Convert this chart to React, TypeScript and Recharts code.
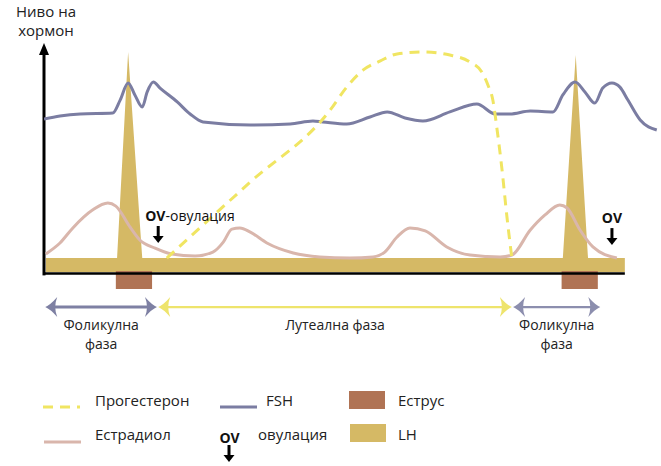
import React from "react";
import {
  ComposedChart,
  Line,
  Area,
  XAxis,
  YAxis,
  ReferenceLine,
  ReferenceArea,
  ReferenceDot,
} from "recharts";

const FONT = "'Open Sans', 'Noto Sans', sans-serif";

// x = relative time in the cycle (0..100), y = relative hormone level
const fshDays = [0, 2.6, 5.9, 11.2, 12.4, 13.7, 14.8, 16.0, 16.8, 17.8, 18.9, 21.7, 23.8, 25.9, 33.6, 40.1, 43.8, 45.4, 49.3, 53.1, 55.9, 58.8, 61.7, 66.1, 70.5, 73.5, 75.9, 79.2, 82.9, 84.5, 86.5, 88.1, 89.7, 91.0, 92.5, 93.8, 95.1, 97.1, 99.8];
const fshLevels = [65.9, 67.2, 68.1, 68.5, 74.1, 81.5, 76.3, 71.1, 77.6, 81.9, 79.3, 73.3, 68.1, 64.7, 63.4, 63.8, 65.1, 64.7, 63.8, 66.8, 69.0, 66.4, 65.1, 69.0, 72.4, 68.1, 68.1, 69.4, 69.0, 76.3, 81.9, 77.6, 72.8, 79.3, 81.5, 79.7, 74.1, 65.5, 61.2];

const estradiolDays = [0.3, 2.6, 4.7, 7.9, 10.4, 11.7, 14.0, 15.6, 18.1, 20.8, 24.6, 27.5, 29.2, 30.6, 31.9, 33.6, 36.3, 40.6, 44.9, 49.8, 53.6, 55.5, 57.5, 59.6, 62.1, 65.6, 69.4, 74.3, 76.2, 79.2, 81.6, 84.0, 85.2, 87.3, 89.4, 93.3];
const estradiolLevels = [7.8, 12.5, 19.0, 26.7, 29.7, 28.4, 19.4, 13.8, 10.3, 7.8, 6.9, 8.6, 12.9, 18.5, 19.0, 17.2, 12.5, 8.2, 6.5, 6.0, 6.5, 8.6, 15.1, 19.0, 17.7, 10.8, 7.3, 6.5, 7.3, 18.1, 24.6, 28.9, 27.6, 18.1, 10.8, 6.0];

const progesteroneDays = [20.0, 33.6, 46.6, 49.3, 52.0, 54.7, 57.5, 61.7, 66.1, 69.4, 71.3, 72.3, 73.1, 73.8, 74.6, 75.4, 76.2];
const progesteroneLevels = [6.0, 38.8, 69.8, 79.7, 87.1, 90.9, 94.0, 94.8, 93.5, 90.5, 86.2, 80.6, 74.1, 61.2, 44.0, 23.7, 6.0];

const lhDays = [0.3, 11.9, 13.7, 16.0, 84.5, 86.6, 88.6, 94.6];
const lhLevels = [6.0, 6.0, 94.8, 6.0, 6.0, 93.5, 6.0, 6.0];

const estrusStart = [11.7, 84.3];
const estrusEnd = [17.6, 90.2];
const estrusTop = 0.4;
const estrusBottom = -7.3;

const ovulationDays = [18.6, 92.5];
const ovulationLevels = [12.5, 11.6];
const ovulationLabels = ["-овулация", ""];

const phaseNames = [["Фоликулна", "фаза"], ["Лутеална фаза"], ["Фоликулна", "фаза"]];
const phaseStart = [0.2, 18.6, 76.4];
const phaseEnd = [18.4, 76.2, 90.6];
const phaseLevel = -15.1;
const phaseColors = ["#7E80A3", "#EEE46C", "#8C8EAE"];

const axisTop = 98.7;
const axisEnd = 94.6;

const COLORS = {
  fsh: "#7B7DA2",
  estradiol: "#D9B6AC",
  progesterone: "#F0E562",
  lh: "#D5B965",
  estrus: "#B07354",
};

const toPoints = (xs: number[], ys: number[]) => xs.map((x, i) => ({ day: x, level: ys[i] }));

const fshData = toPoints(fshDays, fshLevels);
const estradiolData = toPoints(estradiolDays, estradiolLevels);
const progesteroneData = toPoints(progesteroneDays, progesteroneLevels);
const lhData = toPoints(lhDays, lhLevels);

function arrowHead(x: number, y: number, dir: number) {
  const b = x + dir * 12;
  const m = x + dir * 8;
  const s = x + dir * 5;
  return `M${x},${y} Q${s},${y - 2} ${b},${y - 10} Q${m},${y} ${b},${y + 10} Q${s},${y + 2} ${x},${y} Z`;
}

function phaseShape(color: string, width: number) {
  return (p: any) => {
    const x1 = Math.min(p.x1, p.x2);
    const x2 = Math.max(p.x1, p.x2);
    const y = p.y1;
    return (
      <g>
        <line x1={x1 + 6} y1={y} x2={x2 - 6} y2={y} stroke={color} strokeWidth={width} />
        <path d={arrowHead(x1, y, 1)} fill={color} />
        <path d={arrowHead(x2, y, -1)} fill={color} />
      </g>
    );
  };
}

function yAxisShape(p: any) {
  const x = p.x1;
  const top = Math.min(p.y1, p.y2);
  const bottom = Math.max(p.y1, p.y2);
  return (
    <g>
      <line x1={x} y1={bottom + 2} x2={x} y2={top + 10} stroke="#000" strokeWidth={3} />
      <path d={`M${x},${top} L${x - 5},${top + 12} L${x + 5},${top + 12} Z`} fill="#000" />
    </g>
  );
}

function DownArrow({ x, y }: { x: number; y: number }) {
  return (
    <g>
      <line x1={x} y1={y - 17} x2={x} y2={y - 6} stroke="#000" strokeWidth={3} />
      <path d={`M${x - 5.5},${y - 7} L${x + 5.5},${y - 7} L${x},${y} Z`} fill="#000" />
    </g>
  );
}

function ovShape(label: string) {
  return (p: any) => {
    const { cx, cy } = p;
    return (
      <g>
        <DownArrow x={cx} y={cy} />
        <text
          x={label ? cx - 13 : cx}
          y={cy - 22}
          textAnchor={label ? "start" : "middle"}
          fontFamily={FONT}
          fontSize={14}
          fill="#111"
        >
          <tspan fontWeight={700}>OV</tspan>
          {label ? <tspan>{label}</tspan> : null}
        </text>
      </g>
    );
  };
}

function phaseLabelShape(lines: string[]) {
  return (p: any) => (
    <g>
      {lines.map((l, i) => (
        <text
          key={i}
          x={p.cx}
          y={p.cy + 23 + i * 19}
          textAnchor="middle"
          fontFamily={FONT}
          fontSize={14}
          fill="#222"
        >
          {l}
        </text>
      ))}
    </g>
  );
}

function Legend() {
  const t = { fontFamily: FONT, fontSize: 15, fill: "#222" };
  return (
    <svg width={661} height={466} style={{ position: "absolute", left: 0, top: 0, pointerEvents: "none" }}>
      <text x={46} y={17} textAnchor="middle" {...t}>Ниво на</text>
      <text x={46} y={36} textAnchor="middle" {...t}>хормон</text>

      <line x1={43} y1={407} x2={80} y2={407} stroke={COLORS.progesterone} strokeWidth={3} strokeDasharray="10 7" />
      <text x={95} y={406} {...t}>Прогестерон</text>
      <line x1={220} y1={407} x2={257} y2={407} stroke={COLORS.fsh} strokeWidth={3} />
      <text x={266} y={406} {...t}>FSH</text>
      <rect x={349} y={391} width={36} height={18} fill={COLORS.estrus} />
      <text x={398} y={406} {...t}>Еструс</text>

      <line x1={44} y1={442} x2={81} y2={442} stroke={COLORS.estradiol} strokeWidth={3} />
      <text x={95} y={440} {...t}>Естрадиол</text>
      <text x={229.5} y={443} textAnchor="middle" fontFamily={FONT} fontSize={14} fontWeight={700} fill="#111">OV</text>
      <DownArrow x={229} y={462} />
      <text x={258} y={440} {...t}>овулация</text>
      <rect x={350} y={424} width={36} height={18} fill={COLORS.lh} />
      <text x={398} y={440} {...t}>LH</text>
    </svg>
  );
}

export default function App() {
  return (
    <div style={{ position: "absolute", left: 0, top: 0, width: 661, height: 466, background: "#fff" }}>
      <ComposedChart width={661} height={466} margin={{ top: 40, right: 3, bottom: 147.6, left: 44 }}>
        <XAxis type="number" dataKey="day" domain={[0, 100]} hide allowDataOverflow />
        <YAxis type="number" dataKey="level" domain={[-20, 100]} hide allowDataOverflow />

        <Area
          data={lhData}
          dataKey="level"
          type="linear"
          baseValue={0}
          stroke="none"
          fill={COLORS.lh}
          fillOpacity={1}
          isAnimationActive={false}
        />

        <ReferenceLine
          segment={[{ x: 0, y: -0.6 }, { x: axisEnd, y: -0.6 }]}
          stroke="#000"
          strokeWidth={2.5}
        />
        <ReferenceLine segment={[{ x: 0, y: -0.6 }, { x: 0, y: axisTop }]} shape={yAxisShape} />

        {estrusStart.map((s, i) => (
          <ReferenceArea
            key={`e${i}`}
            x1={s}
            x2={estrusEnd[i]}
            y1={estrusBottom}
            y2={estrusTop}
            fill={COLORS.estrus}
            fillOpacity={1}
            stroke="none"
          />
        ))}

        {phaseStart.map((s, i) => (
          <ReferenceLine
            key={`p${i}`}
            segment={[{ x: s, y: phaseLevel }, { x: phaseEnd[i], y: phaseLevel }]}
            shape={phaseShape(phaseColors[i], i === 0 ? 3 : 2.2)}
          />
        ))}
        {phaseStart.map((s, i) => (
          <ReferenceDot
            key={`pl${i}`}
            x={(s + phaseEnd[i]) / 2}
            y={phaseLevel}
            r={0}
            shape={phaseLabelShape(phaseNames[i])}
          />
        ))}

        <Line
          data={estradiolData}
          dataKey="level"
          type="monotone"
          stroke={COLORS.estradiol}
          strokeWidth={3}
          dot={false}
          isAnimationActive={false}
        />
        <Line
          data={fshData}
          dataKey="level"
          type="monotone"
          stroke={COLORS.fsh}
          strokeWidth={3}
          dot={false}
          isAnimationActive={false}
        />
        <Line
          data={progesteroneData}
          dataKey="level"
          type="monotone"
          stroke={COLORS.progesterone}
          strokeWidth={3}
          strokeDasharray="10 7"
          dot={false}
          isAnimationActive={false}
        />

        {ovulationDays.map((d, i) => (
          <ReferenceDot
            key={`ov${i}`}
            x={d}
            y={ovulationLevels[i]}
            r={0}
            shape={ovShape(ovulationLabels[i])}
          />
        ))}
      </ComposedChart>
      <Legend />
    </div>
  );
}
